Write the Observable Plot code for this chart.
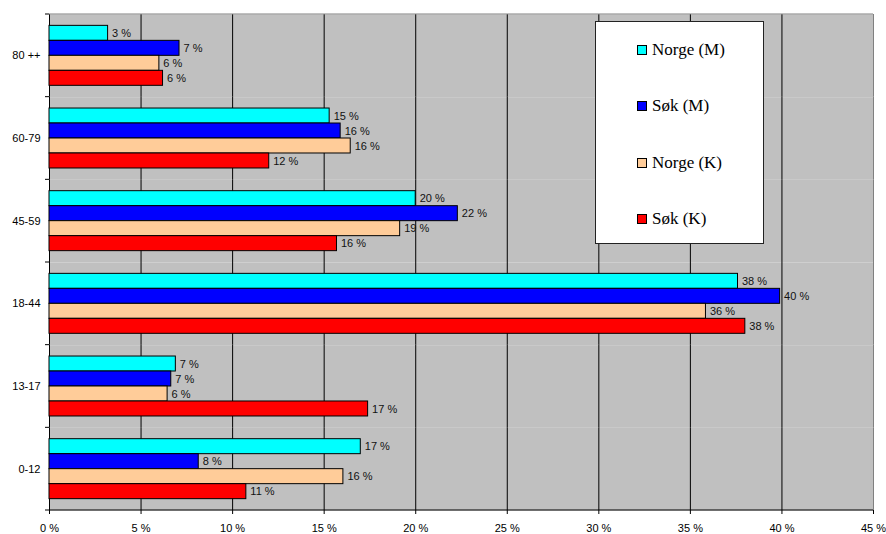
<!DOCTYPE html>
<html><head><meta charset="utf-8">
<script src="https://cdn.jsdelivr.net/npm/d3@7"></script>
<script src="https://cdn.jsdelivr.net/npm/@observablehq/plot@0.6"></script>
<style>
body{margin:0;background:#fff;}
#wrap{position:relative;width:886px;height:534px;}
#legend{position:absolute;left:595px;top:21px;width:167px;height:221px;border:1px solid #222;background:#fff;font-family:"Liberation Serif",Times,"Times New Roman","DejaVu Serif",serif;font-size:17px;color:#000;}
.item{position:absolute;left:41px;display:flex;align-items:center;transform:translateY(-50%);white-space:nowrap;}
.sw{width:8px;height:8px;border:1px solid #000;margin-right:5px;}
</style></head><body><div id="wrap"></div><script>
const groups = ["80 ++","60-79","45-59","18-44","13-17","0-12"];
const series = ["Norge (M)","Søk (M)","Norge (K)","Søk (K)"];
const colors = ["#00FFFF","#0000FF","#FFCC99","#FF0000"];
const norgeM = [3.2,15.3,20.0,37.6,6.9,17.0];
const sokM   = [7.1,15.9,22.3,39.9,6.65,8.15];
const norgeK = [6.0,16.45,19.15,35.85,6.45,16.05];
const sokK   = [6.2,12.0,15.7,38.0,17.4,10.75];
const xTicks = [0,5,10,15,20,25,30,35,40,45];
const gridTicks = [5,10,15,20,25,30,35,40];

const seriesValues = [norgeM, sokM, norgeK, sokK];
const data = [];
groups.forEach((g, gi) => series.forEach((s, si) => data.push({group: g, series: s, value: seriesValues[si][gi]})));

const plot = Plot.plot({
  width: 886, height: 534,
  marginLeft: 49, marginRight: 13, marginTop: 14, marginBottom: 24,
  style: {fontFamily: "'Liberation Sans', Arial, sans-serif", fontSize: "11px", background: "transparent", color: "#000"},
  x: {domain: [0, 45]},
  y: {domain: series, axis: null, paddingInner: 0, paddingOuter: 0.757, round: false},
  fy: {domain: groups, padding: 0, round: false},
  color: {domain: series, range: colors},
  marks: [
    Plot.frame({fill: "#c0c0c0", stroke: null}),
    Plot.ruleX(gridTicks, {stroke: "#000", strokeWidth: 1}),
    Plot.ruleX([45], {stroke: "#808080", strokeWidth: 1}),
    Plot.ruleX([0], {stroke: "#000", strokeWidth: 1}),
    Plot.barX(data, {x: "value", y: "series", fy: "group", fill: "series", stroke: "#000", strokeWidth: 1}),
    Plot.text(data, {x: "value", y: "series", fy: "group", text: d => Math.round(d.value) + " %", textAnchor: "start", dx: 4, fontSize: 11, fill: "#111"}),
    Plot.axisX({ticks: xTicks, tickFormat: d => d + " %", tickSize: 4, tickPadding: 10, fontSize: 11, label: null}),
    Plot.axisFy({anchor: "left", tickSize: 0, tickPadding: 9, fontSize: 11, label: null})
  ]
});
document.getElementById("wrap").appendChild(plot);

// outer border lines and category boundary ticks, from the plot's own scales
const xs = plot.scale("x"), fys = plot.scale("fy");
const xLeft = xs.apply(0), xRight = xs.apply(45);
const bounds = groups.map(g => fys.apply(g));
bounds.push(fys.apply(groups[groups.length - 1]) + fys.bandwidth);
const yTop = bounds[0], yBottom = bounds[bounds.length - 1];
const svg = d3.select(plot);
const gb = svg.append("g");
gb.append("line").attr("x1", xLeft).attr("x2", xRight).attr("y1", yTop).attr("y2", yTop).attr("stroke", "#808080");
gb.append("line").attr("x1", xLeft).attr("x2", xRight).attr("y1", yBottom).attr("y2", yBottom).attr("stroke", "#000");
gb.selectAll("line.t").data(bounds).join("line").attr("class", "t")
  .attr("x1", xLeft - 4).attr("x2", xLeft).attr("y1", d => d).attr("y2", d => d).attr("stroke", "#000");

// legend
const legend = document.createElement("div");
legend.id = "legend";
const rowCenters = [27.5, 84, 140.5, 196.5];
series.forEach((s, i) => {
  const it = document.createElement("div");
  it.className = "item";
  it.style.top = rowCenters[i] + "px";
  const sw = document.createElement("span");
  sw.className = "sw";
  sw.style.background = colors[i];
  const tx = document.createElement("span");
  tx.textContent = s;
  it.appendChild(sw); it.appendChild(tx);
  legend.appendChild(it);
});
document.getElementById("wrap").appendChild(legend);
</script></body></html>
